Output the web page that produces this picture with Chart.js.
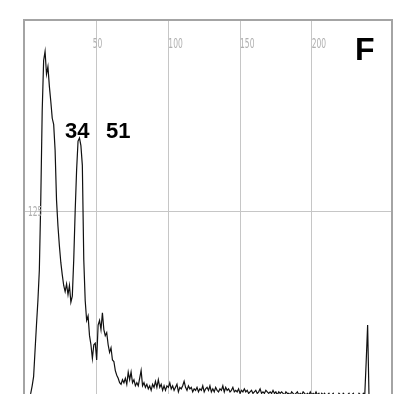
<!DOCTYPE html>
<html>
<head>
<meta charset="utf-8">
<script src="https://cdn.jsdelivr.net/npm/chart.js@4/dist/chart.umd.min.js"></script>
<style>
  html, body { margin: 0; padding: 0; background: #fff; }
  #wrap { width: 396px; height: 394px; overflow: hidden; position: relative; }
  #wrap canvas { display: block; }
</style>
</head>
<body>
<div id="wrap"><canvas id="hist" width="396" height="404"></canvas></div>
<script>
// histogram counts per intensity bin (0..255)
const counts = [
  0,0,1,3,5,10,16,33,50,66,
  86,132,191,224,230,215,220,207,197,186,
  182,165,132,115,102,91,83,76,72,77,
  70,76,65,69,93,125,152,171,173,168,
  155,93,66,53,56,43,37,28,37,38,
  27,50,53,47,58,47,43,45,37,32,
  35,27,26,20,17,15,12,11,14,12,
  15,11,19,14,19,12,14,10,12,10,
  15,20,10,12,9,11,8,10,7,11,
  9,13,9,14,9,11,7,10,7,10,
  9,12,8,10,7,9,11,6,9,8,
  10,13,9,7,10,8,9,6,8,7,
  9,6,8,7,10,6,8,9,7,10,
  6,8,6,9,7,6,8,7,10,6,
  9,7,8,6,7,9,6,7,6,8,
  5,7,6,8,6,7,5,6,7,5,
  6,7,5,6,8,5,6,5,7,6,
  5,6,5,7,5,6,4,6,5,6,
  5,4,6,5,5,4,6,5,4,5,
  6,4,5,4,6,5,4,5,4,6,
  4,5,4,6,4,5,3,5,4,5,
  3,4,5,3,4,5,3,4,3,5,
  4,3,5,4,3,4,5,3,4,5,
  3,4,3,5,4,3,5,4,26,50,
  1,0,0,0,0,0,0,0,0,0,
  0,0,0,0,0,0
];
const bins = counts.map((_, i) => i);
const xTicks = [50, 100, 150, 200];
const yTicks = [125];
const peakLabels = [
  { text: '34', x: 65, y: 138 },
  { text: '51', x: 106, y: 138 }
];
const panelLetter = 'F';

const gridColor = '#c6c6c6';

const decorations = {
  id: 'decorations',
  afterDatasetsDraw(chart) {
    const { ctx, chartArea: a, scales } = chart;
    ctx.save();
    // frame
    ctx.strokeStyle = '#a4a4a4';
    ctx.lineWidth = 2;
    ctx.strokeRect(a.left - 1, a.top - 1, a.right - a.left + 1, a.bottom - a.top + 2);
    // faint narrow tick labels inside plot
    ctx.fillStyle = '#b0b0b0';
    ctx.font = '14px "Liberation Sans Narrow", "DejaVu Sans Condensed", sans-serif';
    ctx.textBaseline = 'alphabetic';
    xTicks.forEach(v => {
      const px = scales.x.getPixelForValue(v);
      ctx.save();
      ctx.translate(v < 100 ? px - 4 : px, 48);
      ctx.scale(0.6, 1);
      ctx.fillText(String(v), 0, 0);
      ctx.restore();
    });
    yTicks.forEach(v => {
      const py = scales.y.getPixelForValue(v);
      ctx.save();
      ctx.translate(28, py + 5);
      ctx.scale(0.6, 1);
      ctx.fillText(String(v), 0, 0);
      ctx.restore();
    });
    // annotations
    ctx.fillStyle = '#000';
    ctx.font = 'bold 22px "Liberation Sans", Arial, sans-serif';
    peakLabels.forEach(l => ctx.fillText(l.text, l.x, l.y));
    ctx.font = 'bold 32px "Liberation Sans", Arial, sans-serif';
    ctx.fillText(panelLetter, 355, 60);
    ctx.restore();
  }
};

new Chart(document.getElementById('hist').getContext('2d'), {
  type: 'line',
  data: {
    datasets: [{
      data: bins.map(b => ({ x: b, y: counts[b] })),
      borderColor: '#111',
      borderWidth: 1.2,
      pointRadius: 0,
      tension: 0,
      fill: false
    }]
  },
  options: {
    responsive: false,
    animation: false,
    layout: { padding: { left: 25, top: 21, right: 4, bottom: 3 } },
    scales: {
      x: {
        type: 'linear', min: 0, max: 256,
        afterBuildTicks: s => { s.ticks = xTicks.map(v => ({ value: v })); },
        afterFit: s => { s.height = 0; },
        ticks: { display: false },
        grid: { color: gridColor, drawTicks: false },
        border: { display: false }
      },
      y: {
        min: 0, max: 250,
        afterBuildTicks: s => { s.ticks = yTicks.map(v => ({ value: v })); },
        afterFit: s => { s.width = 0; },
        ticks: { display: false },
        grid: { color: gridColor, drawTicks: false },
        border: { display: false }
      }
    },
    plugins: { legend: { display: false }, tooltip: { enabled: false } }
  },
  plugins: [decorations]
});
</script>
</body>
</html>
